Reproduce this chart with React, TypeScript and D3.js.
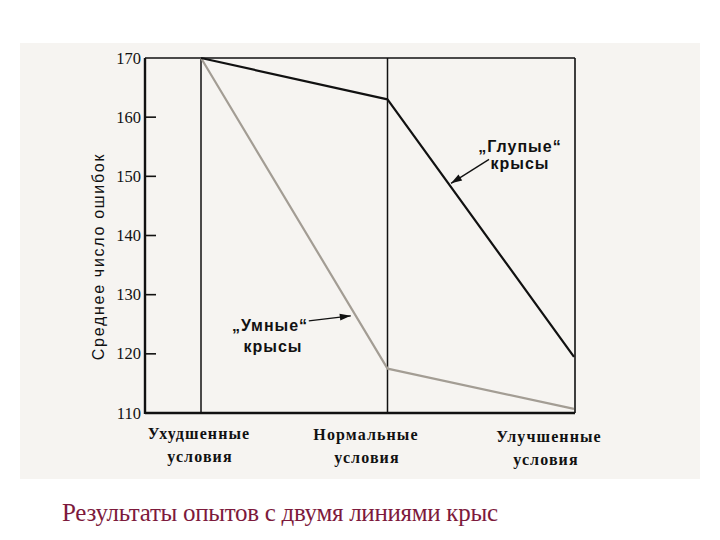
import React from "react";
import * as d3 from "d3";

const categories = ["Ухудшенные\nусловия", "Нормальные\nусловия", "Улучшенные\nусловия"];
const dumbRats = [170, 163, 119.5];
const smartRats = [170, 117.5, 110.7];
const yTicks = [110, 120, 130, 140, 150, 160, 170];
const yTitle = "Среднее число ошибок";
const caption = "Результаты опытов с двумя линиями крыс";
const dumbLabel = ["„Глупые“", "крысы"];
const smartLabel = ["„Умные“", "крысы"];

const W = 720;
const H = 540;

export default function App() {
  const x = d3.scalePoint<string>().domain(categories).range([201, 574]);
  const y = d3.scaleLinear().domain([110, 170]).range([413, 58]);
  const frameL = 145;
  const frameR = x(categories[2])! + 1;
  const line = d3
    .line<number>()
    .x((_, i) => x(categories[i])!)
    .y((d) => y(d));

  const lerp = (arr: number[], seg: number, t: number) => {
    const x0 = x(categories[seg])!;
    const x1 = x(categories[seg + 1])!;
    return [x0 + (x1 - x0) * t, y(arr[seg]) + (y(arr[seg + 1]) - y(arr[seg])) * t];
  };
  const dumbTip = lerp(dumbRats, 1, 0.33);
  const smartTip = lerp(smartRats, 0, 0.83);
  const dTip = [dumbTip[0] + 2, dumbTip[1] - 1];
  const sTip = [smartTip[0] - 5, smartTip[1]];
  const dStart = [dTip[0] + 38, dTip[1] - 24];
  const sStart = [sTip[0] - 42, sTip[1] + 5];

  const arrowHead = (from: number[], to: number[]) => {
    const ang = Math.atan2(to[1] - from[1], to[0] - from[0]);
    const len = 11;
    const wid = 3.5;
    const bx = to[0] - len * Math.cos(ang);
    const by = to[1] - len * Math.sin(ang);
    const px = -Math.sin(ang) * wid;
    const py = Math.cos(ang) * wid;
    return `M${to[0]},${to[1]}L${bx + px},${by + py}L${bx - px},${by - py}Z`;
  };

  const ink = "#111";
  const serif = "'Liberation Serif', 'DejaVu Serif', serif";
  const sans = "'Liberation Sans', Arial, sans-serif";

  return (
    <div style={{ position: "absolute", left: 0, top: 0 }}>
      <svg width={W} height={H} style={{ display: "block", background: "#ffffff" }}>
        <rect x={20} y={43} width={680} height={436} fill="#f6f4f1" />
        {/* frame */}
        <line x1={frameL} x2={frameR} y1={y(170)} y2={y(170)} stroke={ink} strokeWidth={1.6} />
        <line x1={frameR} x2={frameR} y1={y(170)} y2={y(110)} stroke={ink} strokeWidth={1.6} />
        <line x1={frameL} x2={frameL} y1={y(170)} y2={y(110) + 1} stroke={ink} strokeWidth={2.4} />
        <line x1={frameL} x2={frameR} y1={y(110)} y2={y(110)} stroke={ink} strokeWidth={2.6} />
        {categories.slice(0, 2).map((c) => (
          <line key={c} x1={x(c)} x2={x(c)} y1={y(170)} y2={y(110)} stroke={ink} strokeWidth={1.5} />
        ))}
        {/* y ticks */}
        {yTicks.map((t) => (
          <g key={t}>
            {t !== 110 && t !== 170 && (
              <line x1={frameL} x2={frameL + 11} y1={y(t)} y2={y(t)} stroke={ink} strokeWidth={1.6} />
            )}
            <text
              x={frameL - 4}
              y={y(t) + 5.5}
              textAnchor="end"
              fontFamily={serif}
              fontSize={16.5}
              fill={ink}
            >
              {t}
            </text>
          </g>
        ))}
        <text
          transform={`translate(104,${(y(110) + y(170)) / 2 + 21}) rotate(-90)`}
          textAnchor="middle"
          fontFamily={sans}
          fontSize={16}
          letterSpacing={1.7}
          fill={ink}
        >
          {yTitle}
        </text>
        {/* category labels */}
        {categories.map((c, i) => {
          const parts = c.split("\n");
          const cx = [199, 366, 549][i];
          const cx2 = [200, 367, 546][i];
          const dy = [0, 1, 3][i];
          return (
            <g key={c} fontFamily={serif} fontWeight="bold" fontSize={16} fill={ink} letterSpacing={1.1}>
              <text x={cx} y={439 + dy} textAnchor="middle">{parts[0]}</text>
              <text x={cx2} y={462 + dy} textAnchor="middle">{parts[1]}</text>
            </g>
          );
        })}
        {/* data lines */}
        <path d={line(smartRats) ?? ""} fill="none" stroke="#a39d94" strokeWidth={2.2} strokeLinejoin="round" />
        <path d={line(dumbRats) ?? ""} fill="none" stroke={ink} strokeWidth={2.2} strokeLinejoin="round" />
        {/* annotations */}
        <line x1={dStart[0]} y1={dStart[1]} x2={dTip[0]} y2={dTip[1]} stroke={ink} strokeWidth={1.3} />
        <path d={arrowHead(dStart, dTip)} fill={ink} />
        <line x1={sStart[0]} y1={sStart[1]} x2={sTip[0]} y2={sTip[1]} stroke={ink} strokeWidth={1.3} />
        <path d={arrowHead(sStart, sTip)} fill={ink} />
        <g fontFamily={sans} fontWeight="bold" fontSize={16} fill={ink} letterSpacing={1}>
          <text x={520} y={152} textAnchor="middle">{dumbLabel[0]}</text>
          <text x={520} y={169} textAnchor="middle">{dumbLabel[1]}</text>
          <text x={270} y={331} textAnchor="middle">{smartLabel[0]}</text>
          <text x={273} y={352} textAnchor="middle">{smartLabel[1]}</text>
        </g>
        <text
          x={62}
          y={521}
          fontFamily={serif}
          fontSize={25}
          fill="#7d1a3c"
          textLength={436}
          lengthAdjust="spacing"
        >
          {caption}
        </text>
      </svg>
    </div>
  );
}
